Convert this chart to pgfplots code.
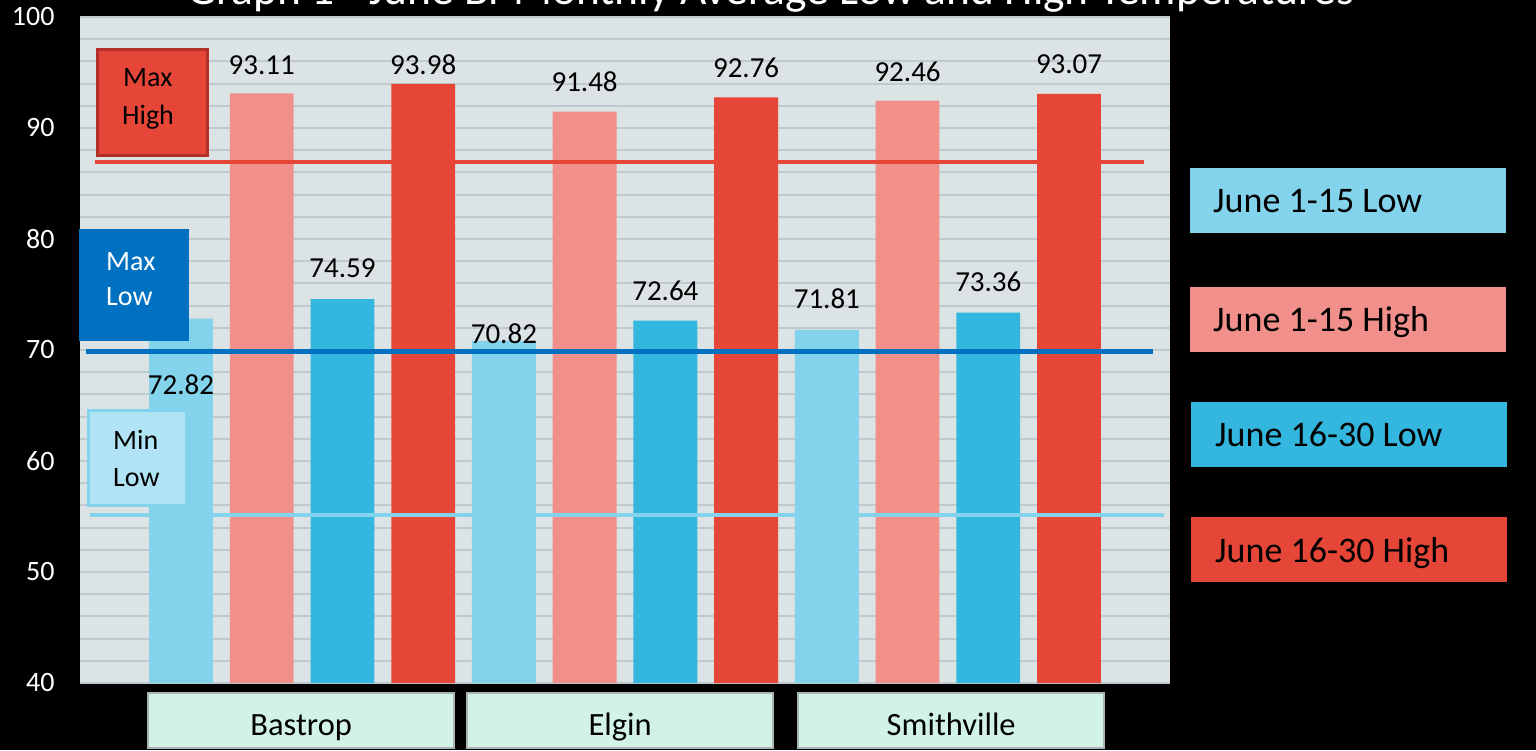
\documentclass[border=0pt]{standalone}
\usepackage{fontspec}
\setmainfont{Carlito}
\usepackage{pgfplots}
\pgfplotsset{compat=1.18}
\usepackage{pgfplotstable}

\definecolor{lowA}{HTML}{83D3EC}
\definecolor{highA}{HTML}{F1908A}
\definecolor{lowB}{HTML}{33B7DE}
\definecolor{highB}{HTML}{E64637}
\definecolor{plotbg}{HTML}{DCE3E5}
\definecolor{gridc}{HTML}{BFCAD0}
\definecolor{maxlow}{HTML}{0070C0}
\definecolor{minlowfill}{HTML}{B0E3F3}
\definecolor{maxhighborder}{HTML}{B3302A}
\definecolor{catfill}{HTML}{D3F2E6}
\definecolor{catdraw}{HTML}{A8B4B6}

% x = bar slot, y = temperature
\pgfplotstableread{
x y
0 72.82
4 70.82
8 71.81
}\tLowA
\pgfplotstableread{
x y
1 93.11
5 91.48
9 92.46
}\tHighA
\pgfplotstableread{
x y
2 74.59
6 72.64
10 73.36
}\tLowB
\pgfplotstableread{
x y
3 93.98
7 92.76
11 93.07
}\tHighB
% data labels: x, label position (y units), text
\pgfplotstableread{
x ly lab
0 66.85 72.82
1 95.68 93.11
2 77.39 74.59
3 95.68 93.98
4 71.44 70.82
5 94.14 91.48
6 75.32 72.64
7 95.41 92.76
8 74.59 71.81
9 95.05 92.46
10 76.13 73.36
11 95.77 93.07
}\tLabels

\begin{document}
\begin{tikzpicture}[x=1pt,y=1pt]
\useasboundingbox (0,0) rectangle (1536,750);
\clip (0,0) rectangle (1536,750);
\fill[black] (0,0) rectangle (1536,750);
\node[anchor=base, text=white, font=\fontsize{45.5}{52}\selectfont, inner sep=0pt] at (771,745)
  {Graph 1 - June Bi-Monthly Average Low and High Temperatures};

\begin{axis}[
  at={(80pt,67pt)}, anchor=south west,
  width=1090pt, height=666pt, scale only axis,
  xmin=-1.25, xmax=12.25, ymin=40, ymax=100,
  axis background/.style={fill=plotbg},
  axis line style={draw=none},
  ytick={40,50,...,100},
  minor ytick={42,44,...,98},
  ymajorgrids, yminorgrids,
  major grid style={gridc, line width=2pt},
  minor grid style={gridc, line width=2pt},
  major tick length=0pt, minor tick length=0pt,
  /pgf/number format/assume math mode=true,
  yticklabel style={text=white, font=\fontsize{28}{34}\selectfont, xshift=-22pt},
  xtick={1.49,5.44,9.54},
  xticklabels={Bastrop,Elgin,Smithville},
  xticklabel style={draw=catdraw, fill=catfill, line width=2pt,
    minimum width=306pt, minimum height=55pt, text height=30pt, text depth=0pt,
    anchor=north, yshift=-9pt, text=black, font=\fontsize{32.5}{38}\selectfont},
]
\addplot[ybar, bar width=0.79, bar shift=0pt, fill=lowA, draw=none] table[x=x, y=y] {\tLowA};
\addplot[ybar, bar width=0.79, bar shift=0pt, fill=highA, draw=none] table[x=x, y=y] {\tHighA};
\addplot[ybar, bar width=0.79, bar shift=0pt, fill=lowB, draw=none] table[x=x, y=y] {\tLowB};
\addplot[ybar, bar width=0.79, bar shift=0pt, fill=highB, draw=none] table[x=x, y=y] {\tHighB};
% reference lines
\addplot[highB, line width=4pt, mark=none] coordinates {(-1.06,86.9) (11.93,86.9)};
\addplot[maxlow, line width=4.5pt, mark=none] coordinates {(-1.18,69.85) (12.04,69.85)};
\addplot[lowA, line width=4.5pt, mark=none] coordinates {(-1.13,55.14) (12.18,55.14)};
% value labels
\addplot[draw=none, mark=none, nodes near coords, point meta=explicit symbolic,
  every node near coord/.append style={anchor=center, text=black, inner sep=0pt,
    font=\fontsize{29}{34}\selectfont}]
  table[x=x, y=ly, meta=lab] {\tLabels};
\end{axis}

% annotation boxes
\filldraw[fill=highB, draw=maxhighborder, line width=3pt] (97.5,700.5) rectangle (207.5,594.5);
\node[anchor=base west, inner sep=0pt, font=\fontsize{28}{34}\selectfont] at (123,663) {Max};
\node[anchor=base west, inner sep=0pt, font=\fontsize{28}{34}\selectfont] at (122,625) {High};

\fill[maxlow] (79,521) rectangle (189,409);
\node[anchor=base west, inner sep=0pt, text=white, font=\fontsize{28}{34}\selectfont] at (106,479) {Max};
\node[anchor=base west, inner sep=0pt, text=white, font=\fontsize{28}{34}\selectfont] at (106,444) {Low};

\filldraw[fill=minlowfill, draw=lowA, line width=3pt] (88.5,339.5) rectangle (186.5,244.5);
\node[anchor=base west, inner sep=0pt, font=\fontsize{28}{34}\selectfont] at (113,300) {Min};
\node[anchor=base west, inner sep=0pt, font=\fontsize{28}{34}\selectfont] at (113,263) {Low};

% legend boxes
\fill[lowA] (1190,582) rectangle (1506,517);
\node[anchor=base west, inner sep=0pt, font=\fontsize{36}{40}\selectfont] at (1213,537) {June 1-15 Low};
\fill[highA] (1190,463) rectangle (1506,398);
\node[anchor=base west, inner sep=0pt, font=\fontsize{36}{40}\selectfont] at (1213,418) {June 1-15 High};
\fill[lowB] (1191,348) rectangle (1507,283);
\node[anchor=base west, inner sep=0pt, font=\fontsize{36}{40}\selectfont] at (1215,303) {June 16-30 Low};
\fill[highB] (1191,233) rectangle (1507,168);
\node[anchor=base west, inner sep=0pt, font=\fontsize{36}{40}\selectfont] at (1215,188) {June 16-30 High};
\end{tikzpicture}
\end{document}
